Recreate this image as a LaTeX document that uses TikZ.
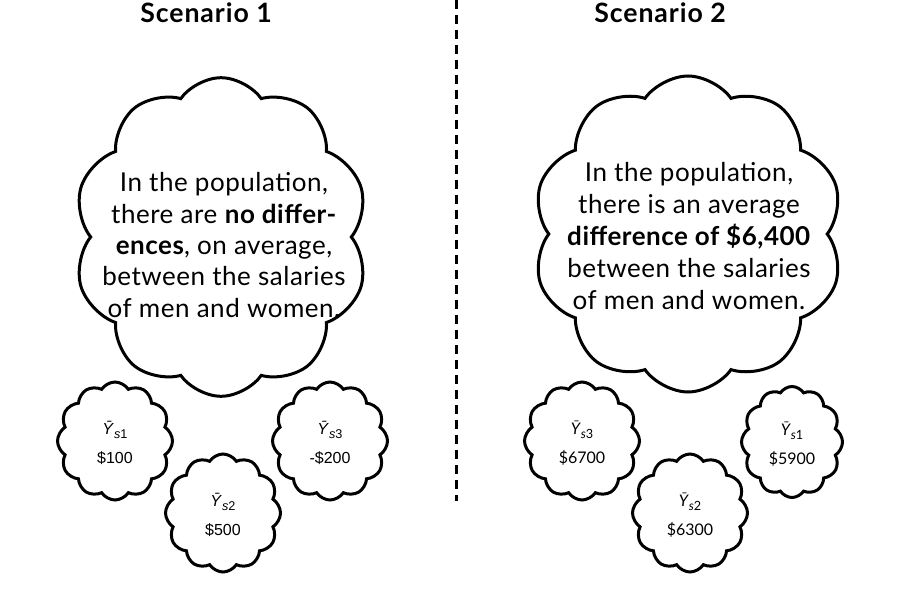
\documentclass[tikz,border=0pt]{standalone}
\usepackage{fontspec}
\setmainfont{Lato}
\newfontfamily\widef[LetterSpace=2]{Lato}
\newfontfamily\titlef[LetterSpace=3.5]{Lato}
\newfontfamily\arialf{Liberation Sans}
\usetikzlibrary{shapes.symbols}
\newcommand\ysub[1]{\textit{\=Y}\raisebox{-0.45ex}{\fontsize{9.5}{9.5}\selectfont\textit{s}#1}}
\tikzset{
  bigcloud/.style={cloud, cloud puffs=10, cloud puff arc=110, cloud ignores aspect, draw, line width=2.25pt, inner sep=0pt, shape border rotate=90},
  smallcloud/.style={cloud, cloud puffs=12, cloud puff arc=115, cloud ignores aspect, draw, line width=2.25pt, inner sep=0pt, shape border rotate=90},
  bigtext/.style={align=center, font=\widef\fontsize{19.5}{23.6}\selectfont},
  bigtexttwo/.style={align=center, font=\widef\fontsize{19.5}{24}\selectfont},
  title/.style={font=\titlef\fontsize{20}{22}\selectfont\bfseries},
  stat/.style={align=center, font=\fontsize{12}{21.5}\selectfont},
  statarial/.style={align=center, font=\arialf\fontsize{12}{21.5}\selectfont},
  divider/.style={line width=2.4pt, dash pattern=on 6.75pt off 4.5pt},
}
\begin{document}
\begin{tikzpicture}[x=0.75pt, y=-0.75pt]
\useasboundingbox (0,0) rectangle (898,616);
% titles
\node[title] (t1) at (206,13) {Scenario 1};
\node[title] (t2) at (660,13) {Scenario 2};
% divider
\coordinate (d1) at (456.5,0);
\coordinate (d2) at (456.5,501);
\draw[divider] (d1) -- (d2);
% big clouds
\node[bigcloud, minimum width=221pt, minimum height=239pt] (c1) at (221,237) {};
\node[bigtext] (c1t) at (224,245) {In the population,\\there are \textbf{no differ-}\\\textbf{ences}, on average,\\between the salaries\\of men and women.};
\node[bigcloud, minimum width=233pt, minimum height=237pt] (c2) at (688,234) {};
\node[bigtexttwo] (c2t) at (689,236) {In the population,\\there is an average\\\textbf{difference of \$6,400}\\between the salaries\\of men and women.};
% small clouds scenario 1
\node[smallcloud, minimum width=86.25pt, minimum height=88.5pt] (s11) at (115,441) {};
\node[statarial] at ([yshift=-1.5pt]s11) {\ysub{1}\\\$100};
\node[smallcloud, minimum width=86.25pt, minimum height=88.5pt] (s12) at (223,513) {};
\node[statarial] at ([yshift=-1.5pt]s12) {\ysub{2}\\\$500};
\node[smallcloud, minimum width=86.25pt, minimum height=88.5pt] (s13) at (330,441) {};
\node[statarial] at ([yshift=-1.5pt]s13) {\ysub{3}\\-\$200};
% small clouds scenario 2
\node[smallcloud, minimum width=86.25pt, minimum height=88.5pt] (s23) at (582,441) {};
\node[stat] at ([yshift=-1.5pt]s23) {\ysub{3}\\\$6700};
\node[smallcloud, minimum width=86.25pt, minimum height=88.5pt] (s22) at (690,513) {};
\node[stat] at ([yshift=-1.5pt]s22) {\ysub{2}\\\$6300};
\node[smallcloud, minimum width=75.75pt, minimum height=83.25pt] (s21) at (792,442) {};
\node[stat] at ([yshift=-1.5pt]s21) {\ysub{1}\\\$5900};
\end{tikzpicture}
\end{document}
